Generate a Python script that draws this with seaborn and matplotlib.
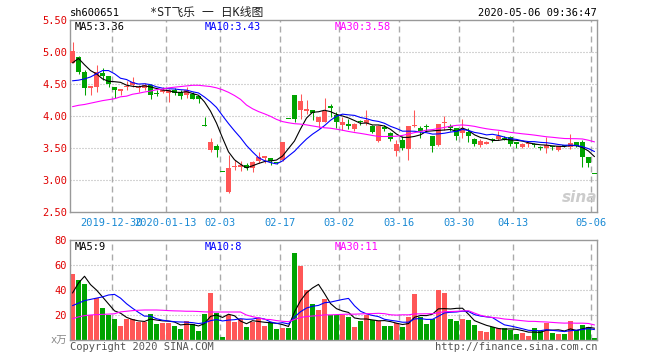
import numpy as np
import pandas as pd
import matplotlib
matplotlib.use("Agg")
import matplotlib.pyplot as plt
import seaborn as sns

sns.set_style("white")
plt.rcParams['font.family'] = ['DejaVu Sans Mono', 'Noto Sans CJK SC']

# ---------------- data ----------------
opens = [4.83, 4.92, 4.69, 4.43, 4.46, 4.67, 4.63, 4.46, 4.385, 4.46,
         4.48, 4.44, 4.44, 4.48, 4.36, 4.375, 4.36, 4.41, 4.375, 4.33,
         4.35, 4.31, 3.85, 3.47, 3.53, 3.13, 2.82, 3.21, 3.21, 3.23,
         3.18, 3.29, 3.35, 3.34, 3.27, 3.31, 3.96, 4.33, 4.09, 4.08,
         4.09, 3.90, 3.90, 4.16, 4.02, 3.86, 3.875, 3.80, 3.91, 3.885,
         3.85, 3.61, 3.83, 3.73, 3.46, 3.625, 3.48, 3.85, 3.81, 3.84,
         3.69, 3.55, 3.885, 3.83, 3.81, 3.73, 3.755, 3.64, 3.545, 3.57,
         3.635, 3.635, 3.645, 3.67, 3.575, 3.51, 3.555, 3.55, 3.51, 3.495,
         3.515, 3.47, 3.535, 3.51, 3.60, 3.60, 3.365, 3.10]
highs = [5.15, 4.93, 4.72, 4.47, 4.79, 4.75, 4.63, 4.46, 4.42, 4.54,
         4.61, 4.48, 4.52, 4.50, 4.41, 4.46, 4.42, 4.44, 4.41, 4.46,
         4.375, 4.31, 3.99, 3.65, 3.57, 3.13, 3.39, 3.31, 3.29, 3.26,
         3.29, 3.43, 3.37, 3.34, 3.28, 3.60, 3.96, 4.33, 4.35, 4.25,
         4.09, 3.99, 4.28, 4.18, 4.07, 3.99, 3.96, 3.885, 3.94, 4.09,
         3.86, 3.86, 3.86, 3.755, 3.625, 3.68, 3.84, 4.09, 3.845, 3.875,
         3.69, 3.875, 4.00, 3.875, 3.82, 3.96, 3.81, 3.65, 3.64, 3.61,
         3.66, 3.77, 3.69, 3.68, 3.60, 3.575, 3.60, 3.58, 3.53, 3.665,
         3.53, 3.53, 3.545, 3.72, 3.60, 3.625, 3.365, 3.10]
lows = [4.83, 4.66, 4.33, 4.33, 4.375, 4.57, 4.45, 4.28, 4.33, 4.41,
        4.46, 4.375, 4.41, 4.27, 4.31, 4.36, 4.22, 4.33, 4.26, 4.28,
        4.26, 4.21, 3.84, 3.44, 3.365, 3.12, 2.80, 3.16, 3.14, 3.15,
        3.13, 3.27, 3.27, 3.23, 3.25, 3.30, 3.95, 3.90, 3.95, 4.03,
        3.94, 3.81, 3.90, 3.99, 3.82, 3.78, 3.79, 3.77, 3.86, 3.86,
        3.73, 3.60, 3.77, 3.61, 3.375, 3.47, 3.31, 3.83, 3.65, 3.77,
        3.44, 3.53, 3.78, 3.77, 3.625, 3.65, 3.60, 3.53, 3.52, 3.555,
        3.59, 3.625, 3.625, 3.53, 3.495, 3.495, 3.52, 3.52, 3.47, 3.415,
        3.47, 3.455, 3.51, 3.485, 3.52, 3.21, 3.21, 3.09]
closes = [5.01, 4.69, 4.43, 4.47, 4.69, 4.62, 4.50, 4.40, 4.42, 4.47,
          4.53, 4.46, 4.48, 4.33, 4.35, 4.41, 4.41, 4.36, 4.31, 4.41,
          4.27, 4.27, 3.84, 3.59, 3.47, 3.12, 3.18, 3.22, 3.24, 3.19,
          3.28, 3.36, 3.37, 3.29, 3.26, 3.59, 3.95, 3.96, 4.23, 4.11,
          4.04, 3.99, 4.08, 4.12, 3.90, 3.91, 3.84, 3.875, 3.90, 3.93,
          3.755, 3.84, 3.79, 3.645, 3.56, 3.495, 3.84, 3.865, 3.77, 3.835,
          3.53, 3.875, 3.895, 3.82, 3.68, 3.79, 3.68, 3.56, 3.615, 3.60,
          3.63, 3.69, 3.64, 3.57, 3.57, 3.57, 3.56, 3.545, 3.505, 3.545,
          3.51, 3.53, 3.53, 3.58, 3.53, 3.365, 3.26, 3.09]
volumes = [53, 48, 44.8, 20.3, 33.6, 25.6, 20, 17, 11.2, 16.8,
           16.8, 14.7, 14.7, 20.8, 12.8, 13.6, 13.6, 11.2, 9.1, 15.5,
           12.8, 7.5, 20.8, 37.9, 21.3, 2.7, 20.3, 14.7, 16.8, 10.7,
           14.7, 17.3, 11.5, 14.7, 8.8, 9.3, 9.9, 69.6, 59.5, 40.3,
           28.8, 24.3, 32.8, 19.7, 19.7, 19.7, 18.4, 10.7, 15.5, 19.7,
           16, 14.9, 11.5, 11.5, 13.3, 10.7, 18.7, 36.8, 18.4, 13,
           16.5, 40, 37.6, 17, 15.5, 17, 16, 12, 7.2, 6.4,
           10.7, 9.6, 9.6, 8, 4.8, 5.6, 3.5, 9.6, 6.9, 13.9,
           5.6, 4.8, 4.8, 15.2, 7.7, 12, 10.7, 1.6]

# moving-average values before a full window is available
ma5_head = [4.83, 4.90, 4.80, 4.71]
ma10_head = [4.55, 4.56, 4.58, 4.61, 4.66, 4.71, 4.71, 4.66, 4.59]
ma30_head = [4.146, 4.167, 4.18, 4.20, 4.22, 4.24, 4.255, 4.27, 4.30, 4.31,
             4.34, 4.355, 4.375, 4.39, 4.41, 4.42, 4.44, 4.45, 4.46, 4.47,
             4.48, 4.48, 4.47, 4.46, 4.44, 4.41, 4.37, 4.32, 4.26]
vma5_head = [37.6, 45.6, 51, 44.3]
vma10_head = [27.5, 29.5, 31.5, 32.5, 33.5, 34.5, 36, 36.5, 33.5]
vma30_head = [17, 18.5, 19.5, 20, 20.3, 20.5, 20.7, 21, 22.5, 23,
              23.5, 23.8, 24, 24, 24, 23.8, 23.5, 23.3, 23.2, 23,
              23, 22.8, 22.5, 22.4, 22.4, 22.4, 22.4, 22.4, 22.4]

date_pos = [7, 16, 25, 35, 45, 55, 65, 74, 87]
date_labels = ["2019-12-30", "2020-01-13", "02-03", "02-17", "03-02",
               "03-16", "03-30", "04-13", "05-06"]
price_ticks = [2.5, 3.0, 3.5, 4.0, 4.5, 5.0, 5.5]
vol_ticks = [0, 20, 40, 60, 80]
vol_tick_labels = ["x万", "20", "40", "60", "80"]

# ---------------- frame ----------------
n = len(closes)
df = pd.DataFrame({"i": np.arange(n), "open": opens, "high": highs,
                   "low": lows, "close": closes, "vol": volumes})


def moving(series, win, head):
    m = series.rolling(win).mean().to_numpy()
    m[:len(head)] = head
    return m


df["ma5"] = moving(df["close"], 5, ma5_head)
df["ma10"] = moving(df["close"], 10, ma10_head)
df["ma30"] = moving(df["close"], 30, ma30_head)
df["vma5"] = moving(df["vol"], 5, vma5_head)
df["vma10"] = moving(df["vol"], 10, vma10_head)
df["vma30"] = moving(df["vol"], 30, vma30_head)

RED = "#ff5757"
GREEN = "#00a300"
GRID = "#aaaaaa"
SPINE = "#999999"
colors = np.where(df["close"] > df["open"], RED, GREEN)

W, H = 660, 360
fig = plt.figure(figsize=(6.6, 3.6), dpi=100)
fig.patch.set_facecolor("white")
ax = fig.add_axes([70 / W, (H - 212) / H, 527 / W, 192 / H])
axv = fig.add_axes([70 / W, (H - 340) / H, 527 / W, 100 / H])

XL = (-0.42, 87.42)
for a in (ax, axv):
    a.set_xlim(*XL)
    for s in a.spines.values():
        s.set_color(SPINE)
        s.set_linewidth(1.0)
    for p in date_pos:
        a.axvline(p - 0.5, color=GRID, linestyle=(0, (4.3, 2.9)), linewidth=1.0, zorder=0)

# price gridlines
for y in [3.0, 3.5, 4.0, 4.5, 5.0]:
    ax.axhline(y, color=GRID, linestyle=(0, (0.9, 1.8)), linewidth=0.8, zorder=0)
for y in [20, 40, 60]:
    axv.axhline(y, color=GRID, linestyle=(0, (0.9, 1.8)), linewidth=0.8, zorder=0)

# candles
ax.vlines(df["i"], df["low"], df["high"], colors=colors, linewidth=0.75, zorder=2)
body_bottom = np.minimum(df["open"], df["close"])
body_h = np.maximum(np.abs(df["close"] - df["open"]), 0.016)
ax.bar(df["i"], body_h, bottom=body_bottom, width=0.8, color=colors, linewidth=0, zorder=3)

sns.lineplot(x=df["i"], y=df["ma5"], ax=ax, color="black", linewidth=0.8, zorder=4)
sns.lineplot(x=df["i"], y=df["ma10"], ax=ax, color="#0000ff", linewidth=0.8, zorder=4)
sns.lineplot(x=df["i"], y=df["ma30"], ax=ax, color="#ff00ff", linewidth=0.8, zorder=4)

ax.set_ylim(2.5, 5.5)
ax.set_yticks(price_ticks)
ax.set_yticklabels([f"{v:.2f}" for v in price_ticks])
ax.set_xticks([p - 0.5 for p in date_pos])
ax.set_xticklabels(date_labels)
ax.tick_params(axis="y", length=0, pad=2, labelcolor="#e00000", labelsize=7.5)
ax.tick_params(axis="x", length=0, pad=4, labelcolor="#1a8ad4", labelsize=7.5)
ax.set_xlabel("")
ax.set_ylabel("")

# volume
axv.bar(df["i"], df["vol"], width=0.8, color=colors, linewidth=0, zorder=2)
sns.lineplot(x=df["i"], y=df["vma5"], ax=axv, color="black", linewidth=0.8, zorder=4)
sns.lineplot(x=df["i"], y=df["vma10"], ax=axv, color="#0000ff", linewidth=0.8, zorder=4)
sns.lineplot(x=df["i"], y=df["vma30"], ax=axv, color="#ff00ff", linewidth=0.8, zorder=4)
axv.set_ylim(0, 80)
axv.set_yticks(vol_ticks)
axv.set_yticklabels(vol_tick_labels)
axv.set_xticks([])
axv.tick_params(axis="y", length=0, pad=2, labelcolor="#e00000", labelsize=7.5)
axv.get_yticklabels()[0].set_color("#888888")
axv.set_xlabel("")
axv.set_ylabel("")


def ftext(x, y, s, **kw):
    kw.setdefault("fontsize", 7.5)
    kw.setdefault("va", "center")
    fig.text(x / W, 1 - y / H, s, **kw)


ftext(70, 12.5, "sh600651", color="black")
ftext(150, 12.5, "*ST飞乐 一 日K线图", color="#222222", fontsize=8.5)
ftext(597, 12.5, "2020-05-06 09:36:47", color="black", ha="right")

ftext(75, 26.5, "MA5:3.36", color="black")
ftext(205, 26.5, "MA10:3.43", color="#0000ff")
ftext(335, 26.5, "MA30:3.58", color="#ff00ff")

ftext(75, 247, "MA5:9", color="black")
ftext(205, 247, "MA10:8", color="#0000ff")
ftext(335, 247, "MA30:11", color="#ff00ff")

ftext(70, 347, "Copyright 2020 SINA.COM", color="#555555")
ftext(597, 347, "http://finance.sina.com.cn", color="#555555", ha="right")

ftext(580, 197, "sina", color="#cccccc", fontsize=11, fontweight="bold",
      style="italic", ha="center", family="DejaVu Sans")

fig.savefig("out.png", dpi=100)
